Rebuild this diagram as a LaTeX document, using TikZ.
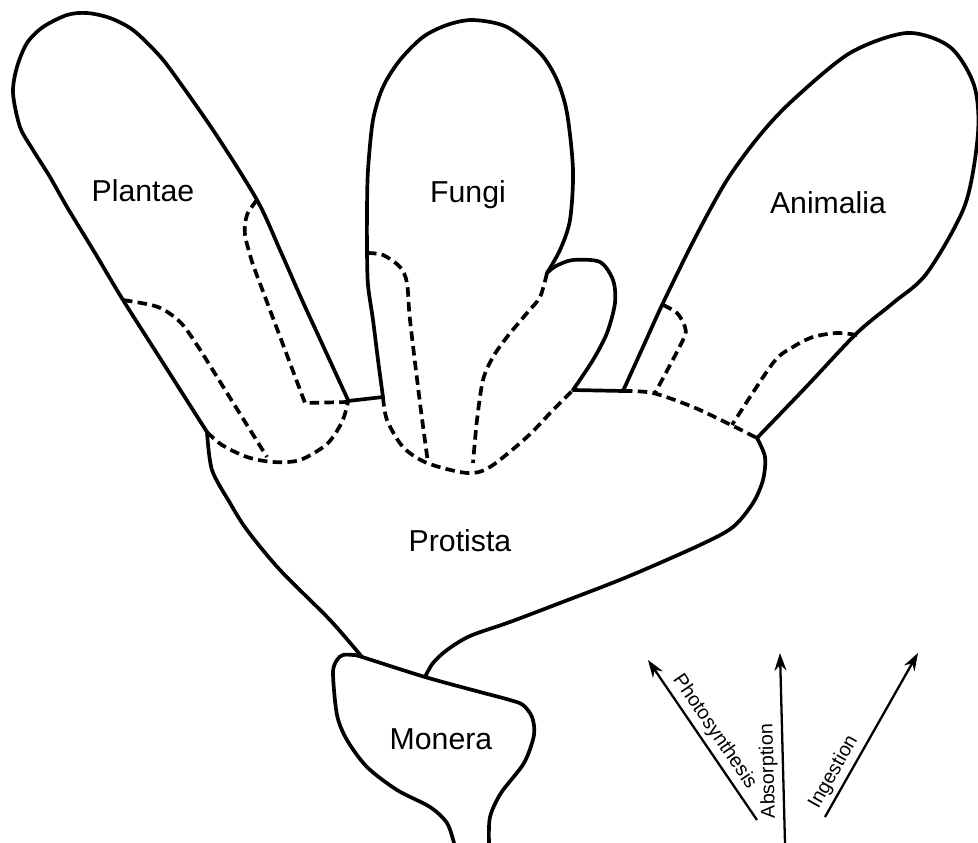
\documentclass[tikz,border=0pt]{standalone}
\usepackage{fontspec}
\setmainfont{Liberation Sans}
\usetikzlibrary{arrows.meta}

\begin{document}
\begin{tikzpicture}[x=0.01cm, y=-0.01cm,
    outline/.style={line width=1.05pt, line join=round, line cap=round},
    hidden/.style={line width=1.05pt, dash pattern=on 2.7pt off 1.5pt},
    kingdom/.style={anchor=base, inner sep=0pt, font=\fontsize{8.6}{10}\selectfont},
    mode/.style={line width=0.65pt, -{Stealth[length=5pt, width=3.4pt]}},
    modelabel/.style={sloped, above, inner sep=1.2pt, font=\fontsize{5.6}{6}\selectfont},
    keepup/.style={allow upside down},
    plain/.style={}
]
\useasboundingbox (0,0) rectangle (978,843);

% Plantae lobe
\draw[outline] plot[smooth] coordinates {(348,400) (325,350) (302,300) (280,250) (257,200) (215,133) (173,73) (157,53) (133,30) (110,18) (87,13) (67,15) (43,27) (27,43) (17,67) (13,93) (20,127) (33,150) (50,177) (67,207) (95,253) (123,300) (165,366) (207,432)};
\draw[hidden] plot[smooth] coordinates {(123,300) (158,307) (180,322) (197,345) (232,401) (267,457)};
\draw[hidden] plot[smooth] coordinates {(257,200) (247,215) (245,235) (253,265)} -- (305,403) -- (348,402);
\draw[hidden] plot[smooth] coordinates {(207,432) (222,445) (247,457) (273,462) (300,460) (327,444) (342,422) (348,402)};
\draw[outline] (348,401) -- (383,397);

% Fungi lobe and its side lobe
\draw[outline] plot[smooth] coordinates {(383,397) (378,360) (373,320) (368,285) (367,250) (367,210) (368,170) (373,120) (383,87) (400,60) (423,37) (447,25) (473,20) (507,27) (540,53) (557,80) (567,113) (573,170) (570,220) (560,250) (547,273)};
\draw[outline] plot[smooth] coordinates {(547,273) (556,266) (573,260) (600,262) (613,280) (615,303) (607,333) (593,360) (573,390)};
\draw[hidden] plot[smooth] coordinates {(367,253) (383,255) (400,267) (407,283) (410,320) (420,403) (428,463)};
\draw[hidden] plot[smooth] coordinates {(383,397) (387,420) (403,447) (427,463) (467,473) (490,467) (527,437) (553,410) (573,390)};
\draw[hidden] plot[smooth] coordinates {(547,273) (540,297) (527,313) (507,337) (493,357) (483,380) (477,420) (473,463)};
\draw[outline] (573,390) -- (623,391);

% Animalia lobe
\draw[outline] plot[smooth] coordinates {(623,391) (643,347) (663,303) (695,238) (727,180) (760,135) (793,100) (850,53) (907,33) (950,47) (974,85) (978,133) (965,205) (927,273) (893,303) (857,333) (807,386) (757,438)};
\draw[hidden] plot[smooth] coordinates {(663,305) (677,313) (685,327) (683,340) (655,393)};
\draw[hidden] plot[smooth] coordinates {(857,335) (837,333) (813,337) (793,347) (773,363) (732,425)};
\draw[hidden] plot[smooth] coordinates {(623,391) (653,393) (693,407) (727,423) (757,438)};

% Protista
\draw[outline] plot[smooth] coordinates {(207,432) (212,470) (230,503) (247,530) (280,570) (330,620) (362,657)};
\draw[outline] plot[smooth] coordinates {(757,438) (765,457) (763,480) (753,503) (733,527) (700,545) (627,577) (560,603) (510,622) (470,636) (447,650) (433,663) (425,677)};

% Monera
\draw[outline] plot[smooth, tension=0.5] coordinates {(454,843) (447,823) (430,807) (397,790) (367,767) (347,740) (337,715) (333,673) (337,660) (343,655) (353,655) (362,657) (425,677) (480,692) (510,700) (523,705) (532,717) (534,735) (524,763) (501,793) (490,817) (489,843)};

% Kingdom names
\node[kingdom] (plantae) at (143,202) {Plantae};
\node[kingdom] (fungi) at (468,203) {Fungi};
\node[kingdom] (animalia) at (828,214) {Animalia};
\node[kingdom] (protista) at (460,552) {Protista};
\node[kingdom] (monera) at (441,750) {Monera};

% Modes of nutrition
\foreach \nm/\tx/\ty/\hx/\hy/\p/\side/\txt in {photo/757/820/648/660/0.5/plain/Photosynthesis, absorb/785/843/780/653/0.38/keepup/Absorption, ingest/825/817/918/653/0.23/plain/Ingestion}{
  \coordinate (\nm S) at (\tx,\ty);
  \coordinate (\nm E) at (\hx,\hy);
  \draw[mode] (\nm S) -- node[modelabel, \side, pos=\p] (\nm) {\txt} (\nm E);
}

\end{tikzpicture}
\end{document}
